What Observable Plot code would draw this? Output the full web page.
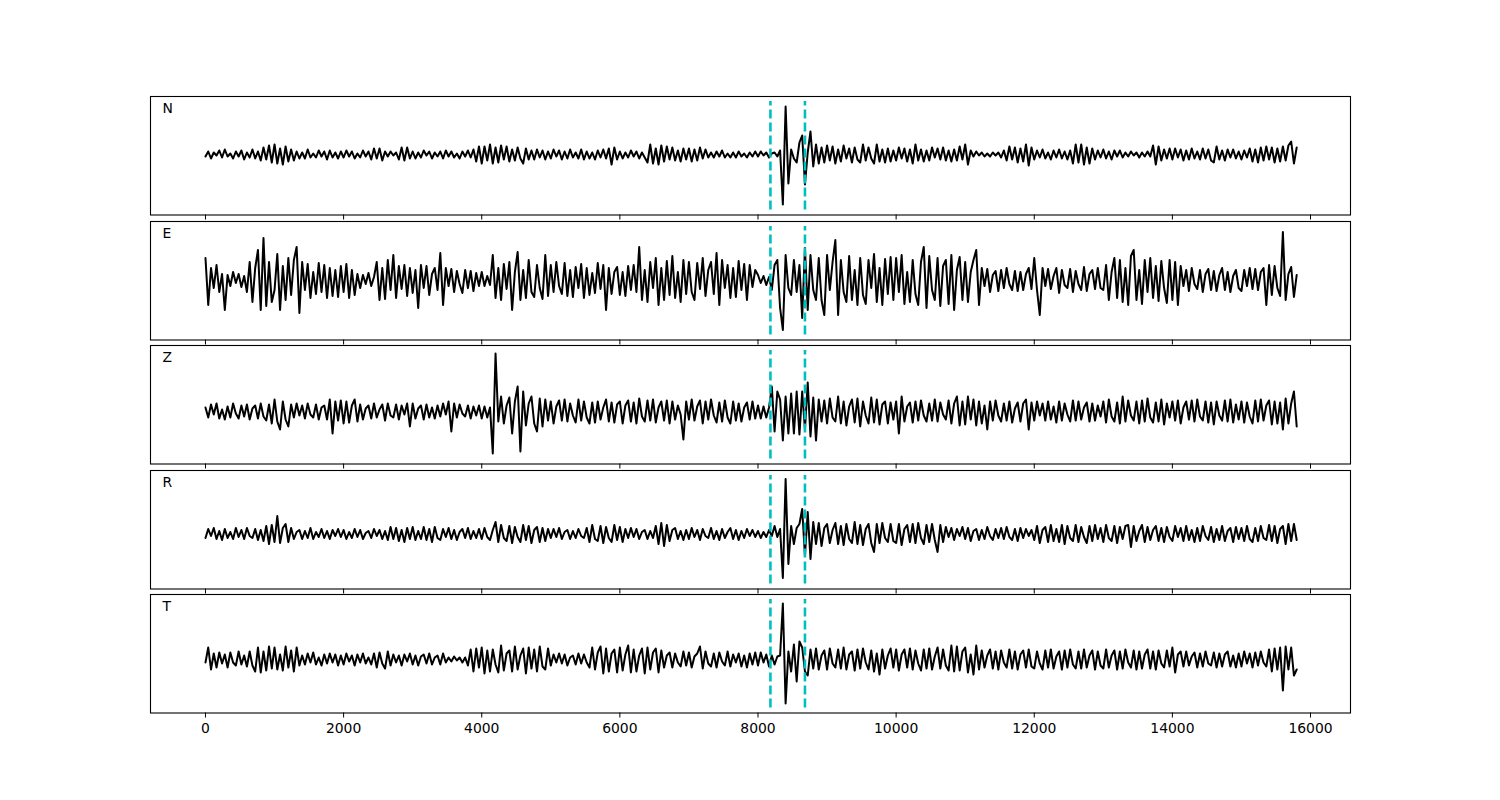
<!DOCTYPE html>
<html><head><meta charset="utf-8">
<script src="https://cdn.jsdelivr.net/npm/d3@7"></script>
<script src="https://cdn.jsdelivr.net/npm/@observablehq/plot@0.6"></script>
<style>
body{margin:0;background:#fff;}
#chart{position:relative;width:1500px;height:800px;background:#fff;overflow:hidden;}
#chart svg{position:absolute;left:0;}
</style></head><body><div id="chart"></div>
<script>
// ---- data (sample index step, amplitudes) ----
const sampleStep = 40;
const xTicks = [0, 2000, 4000, 6000, 8000, 10000, 12000, 14000, 16000];
const componentLabels = ["N", "E", "Z", "R", "T"];
const pickTimes = [8180, 8680];

const traceN = [
-2,3,-4,2,-1,4,-3,5,-2,1,-4,3,-2,4,-5,2,-3,5,-4,3,-6,7,-5,9,-8,
10,-9,6,-10,8,-7,5,-6,3,-4,2,-4,5,-3,1,-3,4,-2,3,-5,4,-3,2,-4,3,
-3,4,-2,3,-4,1,-3,4,-2,3,-5,6,-4,6,-6,3,-2,3,-1,2,-5,7,-6,7,-4,
3,-4,2,-3,4,-1,3,-4,2,-2,3,-4,4,-2,3,-3,1,-4,3,-2,4,-3,5,-7,8,
-9,8,-6,10,-9,7,-8,9,-5,8,-7,5,-6,7,-4,-9,6,-5,4,-5,5,-3,4,-5,3,
-4,5,-2,4,-5,3,-4,5,-3,2,-4,5,-5,3,-4,2,-5,4,-3,5,-4,6,-10,7,-5,
3,-4,2,-3,4,-2,3,-4,2,-3,-8,10,-9,6,-10,9,-7,8,-5,7,-6,4,-7,6,-5,
6,-7,5,-6,7,-4,5,-3,2,-3,3,-2,4,-3,1,-3,2,-3,3,-2,1,-3,2,-2,3,
-2,3,-1,2,-3,1,2,-2,4,-50,48,-29,5,-4,-8,12,19,-30,2,23,-12,10,-9,7,-8,
9,-6,8,-9,5,-7,9,-4,6,-8,7,-5,-8,10,-6,7,-4,-9,10,-7,5,-8,6,-7,4,
-6,7,-4,6,-7,5,-9,10,-6,5,-7,4,-6,7,-3,6,-5,7,-6,4,-7,5,-6,8,-5,
10,-10,4,-2,3,-1,2,-2,1,-2,2,-1,2,-3,4,-6,8,-5,7,-8,6,-7,10,-11,7,
-5,4,-3,5,-4,2,-5,4,-3,5,-4,3,-5,4,-9,10,-8,10,-10,7,-9,6,-5,4,-3,
5,-4,3,-5,4,-2,4,-3,2,-2,3,-1,2,-3,2,-2,3,-2,9,-10,8,-6,5,-4,6,
-5,6,-3,5,-6,4,-5,6,-4,3,-5,6,-4,5,-6,-8,8,-5,4,-6,5,-3,5,-4,3,
-5,4,-3,6,-7,5,-8,7,-6,8,-5,7,-8,6,-7,8,-6,9,13,-9,7];

const traceE = [
22,-25,12,-8,15,-12,6,-30,5,-6,8,-3,6,-7,4,-12,18,-22,12,30,-30,42,-26,18,-22,
-10,26,-30,14,-20,22,-15,20,33,-33,18,-10,16,-18,8,-14,17,-12,15,-18,12,-16,10,-17,14,
-12,16,-18,10,-15,6,-8,5,-4,7,-6,3,18,-20,12,-19,20,-10,25,-18,14,-9,15,-16,12,
-13,10,-28,15,-8,14,-15,6,12,-10,27,-25,12,-6,11,-12,9,-4,-13,10,-8,9,-11,7,-6,
8,-6,4,-5,25,-18,12,-20,16,-9,18,-30,8,28,-20,10,-18,20,-12,-17,15,-8,-19,25,-16,
15,-12,18,-6,-14,17,-16,10,-17,13,-8,16,-18,12,-15,7,-13,17,-9,15,-30,12,-14,8,13,
-15,8,-16,14,-10,15,-12,33,-20,10,-22,18,-8,22,-25,12,-20,19,-15,24,-18,8,-22,20,-14,
18,-12,-20,17,-9,22,-16,10,18,-14,27,-25,20,-8,15,-18,12,-17,19,-10,16,-20,15,-7,10,
5,-3,4,-5,3,-10,15,20,-28,-50,25,-8,-15,20,-12,15,-38,32,-30,25,-10,-20,22,-20,-35,
25,-10,18,40,-35,20,-12,-22,24,-20,10,-25,22,-15,-24,20,-8,26,-22,12,-25,21,-14,23,-20,
22,-12,25,-24,8,-22,20,-14,-25,18,33,-28,24,-10,-20,22,-26,14,20,-24,25,-30,10,23,-20,
18,-22,8,20,30,-25,12,-6,11,-12,5,9,-11,10,-8,12,-4,-10,9,-11,8,-10,6,12,-9,
22,-10,-35,12,-6,11,-9,4,12,-13,10,-5,-8,11,-12,9,-4,-10,13,-11,6,10,-9,12,-8,
-10,15,-20,8,22,-18,20,-22,12,-25,24,30,-20,10,-24,20,-12,22,-18,14,-21,19,-8,-23,20,
-20,18,-25,14,-6,10,-11,12,-4,-9,10,-12,6,11,-10,9,-11,5,12,-10,8,-12,4,10,-8,
-11,10,-6,12,-9,11,-10,8,12,-25,15,-15,14,-8,-16,48,-20,6,13,-17,5];

const traceZ = [
4,-6,7,-3,8,-7,2,-8,5,-6,8,-2,-7,6,-5,7,-8,3,6,-7,8,-5,-9,7,-12,
12,-10,-18,10,-8,-15,7,-6,8,-4,6,-7,8,-3,-6,7,-8,4,6,-8,12,-22,10,-9,11,
-12,10,-11,6,12,-10,7,-8,3,6,-7,8,-6,2,7,-9,8,-4,-6,7,-8,6,-3,8,-15,
8,-7,3,6,-8,7,-6,4,-7,6,-5,8,-3,10,-20,8,-6,7,-2,-5,6,-7,5,-4,6,
-7,5,-6,4,-42,58,-10,15,-12,6,14,-22,10,25,-40,20,-14,8,15,-12,-20,13,-15,12,-9,
10,-12,5,11,-9,12,-10,8,-4,-11,12,-9,10,-6,-12,9,-11,10,-8,4,12,-10,9,-11,7,
10,-12,6,11,-10,9,-12,13,-5,-10,11,-9,12,-11,4,10,-9,11,-12,10,-8,6,-3,-28,10,
-8,12,-9,5,11,-12,10,-8,12,-4,-11,9,-10,11,-6,-12,10,-9,8,-10,4,9,-8,10,-7,
6,-7,5,-6,4,25,-20,20,12,-29,15,-22,18,-22,20,-23,20,-18,29,-25,14,-29,12,-10,11,
-12,13,-6,-10,15,-12,10,-14,5,12,-11,13,-15,10,-4,-12,14,-11,12,-13,7,10,-12,9,-8,
10,-22,15,-10,5,9,-11,10,-9,11,-4,-10,8,-9,12,-10,9,-3,-8,11,-12,8,15,-14,10,
-13,15,-8,12,-14,10,-12,6,-18,10,-9,11,-4,-10,8,-9,10,-11,3,9,-10,8,12,-18,9,
-9,10,-4,8,-9,10,-8,5,-11,10,-9,8,-3,-10,11,-9,10,-8,4,9,-10,8,-9,6,-5,
10,-11,12,-5,-10,9,-12,15,-10,11,-4,-9,10,-12,11,-10,13,-6,-11,9,-10,12,-13,8,-6,
10,-9,11,-12,4,10,-8,11,-10,12,-5,-9,10,-11,9,-13,10,-4,-9,11,-10,12,-11,7,-8,
10,-11,9,-5,-12,11,-10,12,-9,6,11,-13,10,-12,9,-18,13,-12,8,20,-15];

const traceR = [
-4,5,-2,6,-5,3,-6,5,-4,2,-5,6,-3,4,-5,6,-2,-4,5,-6,4,-7,8,-10,9,
-8,18,-9,6,10,-8,6,-5,2,4,-5,3,-4,6,-5,2,-3,5,-4,3,-5,4,-2,5,-3,
4,-5,2,-4,5,-3,4,-5,1,3,-4,5,-2,4,-5,3,-6,7,-5,6,-7,4,-8,6,-5,
7,-6,3,-5,7,-6,5,-8,7,-4,-6,5,-3,6,-5,4,-6,2,5,-4,6,-5,3,-4,5,
-5,6,-3,-6,4,12,-8,9,-4,-7,8,-9,7,-3,-8,9,-6,8,-9,4,7,-8,6,-7,5,
-4,5,-3,6,-5,2,4,-5,3,-4,5,-2,-4,6,-8,9,-5,-7,8,-9,7,-4,-8,9,-6,
7,-8,5,-4,6,-3,5,-5,2,4,-5,3,-4,8,-10,11,-12,9,-7,4,6,-5,3,-6,4,
-5,6,-3,4,-6,5,-2,-4,6,-5,3,-6,5,-4,2,6,-5,4,-6,3,-4,5,-2,4,-3,
3,-4,2,-3,4,-2,8,-3,5,-44,55,-30,8,-10,6,10,25,-22,22,-25,12,-10,11,-12,6,
10,-9,4,11,-10,8,-11,10,-5,-9,12,-10,9,-11,5,10,-9,-18,10,-9,11,-4,-8,10,-7,
-9,10,-11,5,9,-8,10,-9,11,-4,-10,9,-8,10,-6,-18,9,-8,7,-3,6,-6,5,-2,7,
-5,6,-7,3,5,-6,4,-5,7,-2,-6,5,-4,6,-5,7,-3,-6,5,-7,6,-4,5,-2,4,
-6,8,-9,4,7,-8,9,-7,5,-8,9,-10,8,-4,-7,9,-8,7,-3,-9,8,-7,9,-5,6,
-8,9,-4,-7,8,-9,7,-5,8,9,-13,8,-7,3,9,-8,7,-6,4,8,-7,6,-8,7,-3,
-7,8,-3,6,-7,8,-6,4,-8,6,-7,8,-2,-6,7,-8,5,-6,8,-7,3,6,-8,7,-5,
6,-7,8,-5,-8,6,-7,8,-4,-6,9,-7,8,-9,5,8,-10,10,-7,10,-6];

const traceT = [
-3,12,-10,6,-8,7,-4,5,-8,7,-3,-6,8,-5,4,-7,8,-6,-12,12,-13,8,-11,13,-9,
12,-10,5,-11,13,-8,9,-12,12,-6,4,-5,6,-3,7,-5,2,-6,5,-4,6,-3,5,-6,4,
-5,6,-2,4,-6,5,-3,6,-4,2,-5,6,-8,7,-4,-9,8,-6,5,-3,4,-6,5,-2,6,
-5,4,-6,3,5,-4,6,-5,2,4,-5,6,-3,2,-2,3,-1,2,-3,2,-6,10,-12,11,-8,
12,-14,9,-12,10,-5,-13,14,-11,6,9,-12,13,-10,4,11,-14,12,-9,10,-12,13,-7,-10,11,
-6,5,-3,6,-4,5,-6,2,4,-5,6,-4,5,-3,-8,12,-10,7,13,-14,11,-12,6,10,-13,
12,-11,5,14,-13,10,-12,4,11,-14,12,-10,7,11,-13,9,-8,4,7,-8,6,-3,-7,8,-6,
7,-8,3,6,13,-9,8,-4,-7,6,-8,7,-2,-6,8,-7,5,-3,6,-7,4,-8,6,-5,7,
-6,7,-3,5,-7,4,-5,3,4,56,-44,8,-12,15,-22,18,12,-12,-16,10,-9,11,-10,4,9,
-10,11,-4,-8,10,-9,12,-10,5,8,-11,10,-9,11,-3,-10,9,-12,6,-15,10,-9,4,11,-8,
10,-11,5,10,-8,11,-10,9,-4,-11,10,-9,11,-10,3,12,-9,10,-6,-11,14,-12,13,-11,8,
12,-13,5,-15,14,-10,9,-8,4,10,-9,8,-10,9,-3,-8,10,-9,8,-10,5,9,-8,10,-7,
-9,8,-4,-10,9,-8,10,-9,3,8,-10,9,-8,10,-5,-9,8,-9,10,-8,4,9,-10,8,-6,
-9,10,-8,4,9,-10,8,-9,10,-3,-8,9,-10,8,-9,5,10,-9,8,-10,9,-4,-8,9,-7,
12,-13,5,8,-7,8,-6,3,7,-8,6,-7,8,-4,-6,7,-8,6,-7,5,8,-7,4,-8,6,
-7,8,-4,6,-8,7,-6,8,-3,-7,10,-12,11,-10,12,-31,13,-10,12,-16,-10];

const traces = [traceN, traceE, traceZ, traceR, traceT];

// ---- layout ----
const chart = document.getElementById("chart");
const frameTop0 = 96, frameStep = 124.5, frameH = 118.5;
const yHi = [58, 58.5, 66, 63.5, 65];

traces.forEach((vals, i) => {
  const data = vals.map((v, k) => ({t: k * sampleStep, v}));
  const last = i === traces.length - 1;
  const mt = 1, mb = last ? 40 : 5;
  const hi = yHi[i], lo = hi - frameH;
  const svg = Plot.plot({
    width: 1500,
    height: mt + frameH + mb,
    marginLeft: 150, marginRight: 150, marginTop: mt, marginBottom: mb,
    style: {fontFamily: "'DejaVu Sans', sans-serif", fontSize: "13.9px", background: "none", overflow: "visible"},
    x: {domain: [-796, 16579], ticks: xTicks, tickSize: 5, tickPadding: 5,
        tickFormat: last ? (d => String(d)) : (() => ""), label: null},
    y: {domain: [lo, hi], axis: null},
    marks: [
      Plot.frame({stroke: "black", strokeWidth: 1.1}),
      Plot.line(data, {x: "t", y: "v", stroke: "black", strokeWidth: 2, clip: true}),
      Plot.ruleX(pickTimes, {y1: lo + 5, y2: hi - 5, stroke: "#00bfbf", strokeWidth: 2.6, strokeDasharray: "9,4"}),
      Plot.text([componentLabels[i]], {frameAnchor: "top-left", dx: 12, dy: 12, textAnchor: "start", lineAnchor: "middle", fontSize: 13.9, fill: "black"})
    ]
  });
  svg.style.top = (frameTop0 + frameStep * i - mt) + "px";
  chart.appendChild(svg);
});
</script></body></html>
